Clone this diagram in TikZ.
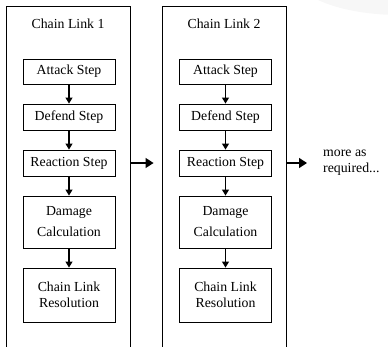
\documentclass[tikz,border=0pt]{standalone}
\usepackage{fontspec}
\setmainfont{Liberation Serif}
\usetikzlibrary{arrows.meta}
\begin{document}
\begin{tikzpicture}[x=1pt,y=-1pt,
  every node/.style={font=\fontsize{13.8}{16}\selectfont},
  outer/.style={draw,line width=0.9pt,minimum width=124pt,minimum height=400pt,anchor=north,inner sep=0pt},
  stepbox/.style={draw,line width=0.9pt,minimum width=92pt,inner sep=0pt,align=center},
  down/.style={line width=1.1pt,-{Triangle[width=7pt,length=6pt]}},
  across/.style={line width=1.3pt,-{Triangle[width=10pt,length=8pt]}}]
\useasboundingbox (0,0) rectangle (388,346);
\clip (0,0) rectangle (388,346);
\fill[black!3] (400,-25) ellipse [x radius=105pt, y radius=40pt];
\node[outer] (o1) at (68,5.5) {};
\node[outer] (o2) at (224,5.5) {};
\node (t1) at (68,24) {Chain Link 1};
\node (t2) at (224,24) {Chain Link 2};
\foreach \i/\x in {1/69,2/225.5}{
  \node[stepbox,minimum height=25pt] (a\i) at (\x,71.5) {Attack Step};
  \node[stepbox,minimum height=26pt] (d\i) at (\x,117) {Defend Step};
  \node[stepbox,minimum height=26pt] (r\i) at (\x,163) {Reaction Step};
  \node[stepbox,minimum height=52pt] (c\i) at (\x,222) {Damage\\[5pt]Calculation};
  \node[stepbox,minimum height=54pt] (l\i) at (\x,295) {Chain Link\\Resolution};
  \draw[down] (a\i) -- (d\i);
  \draw[down] (d\i) -- (r\i);
  \draw[down] (r\i) -- (c\i);
  \draw[down] (c\i) -- (l\i);
}
\node[anchor=west,align=left,inner sep=0pt] (m) at (323,163) {more as\\required...};
\draw[across,shorten >=8pt] (o1.east |- r1) -- (o2.west |- r2);
\draw[across,shorten >=16pt] (o2.east |- r2) -- (m.west);
\end{tikzpicture}
\end{document}
